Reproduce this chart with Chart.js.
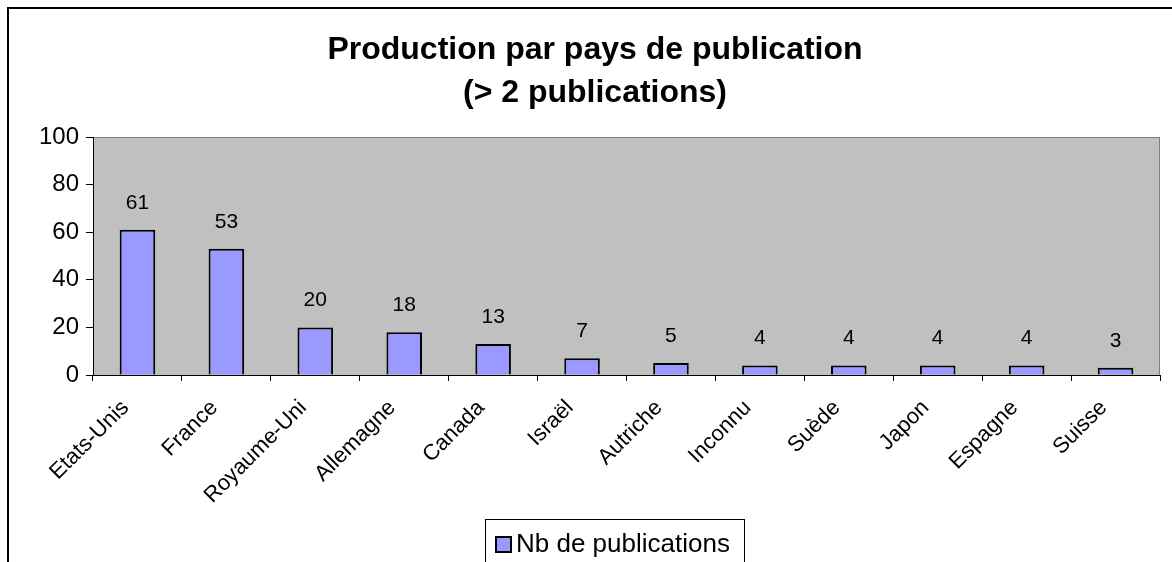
<!DOCTYPE html>
<html>
<head>
<meta charset="utf-8">
<script src="https://cdn.jsdelivr.net/npm/chart.js@4.4.1/dist/chart.umd.min.js"></script>
<style>
  html, body { margin: 0; padding: 0; background: #fff; }
  #wrap { width: 1172px; height: 562px; position: relative; }
</style>
</head>
<body>
<div id="wrap"><canvas id="graphique" width="1172" height="562"></canvas></div>
<script>
// données du graphique
const pays = ['Etats-Unis', 'France', 'Royaume-Uni', 'Allemagne', 'Canada', 'Israël',
  'Autriche', 'Inconnu', 'Suède', 'Japon', 'Espagne', 'Suisse'];
const publications = [61, 53, 20, 18, 13, 7, 5, 4, 4, 4, 4, 3];
const titre = ['Production par pays de publication', '(> 2 publications)'];
const legende = 'Nb de publications';

const police = "'Liberation Sans', Arial, sans-serif";

// cadre, fond gris, titre, étiquettes et légende
const decor = {
  id: 'decor',
  beforeDraw(chart) {
    const ctx = chart.ctx;
    const a = chart.chartArea;
    ctx.save();
    ctx.fillStyle = '#fff';
    ctx.fillRect(0, 0, chart.width, chart.height);
    ctx.fillStyle = '#000';
    ctx.fillRect(7, 7, chart.width - 7, 2);
    ctx.fillRect(7, 7, 2, chart.height - 7);
    ctx.fillStyle = '#c0c0c0';
    ctx.fillRect(a.left, a.top, a.right - a.left, a.bottom - a.top);
    ctx.strokeStyle = '#808080';
    ctx.lineWidth = 1;
    ctx.strokeRect(a.left + 0.5, a.top + 0.5, a.right - a.left - 1, a.bottom - a.top);
    // titre
    ctx.fillStyle = '#000';
    ctx.font = 'bold 32px ' + police;
    ctx.textAlign = 'center';
    ctx.textBaseline = 'middle';
    ctx.fillText(titre[0], 595, 50);
    ctx.fillText(titre[1], 595, 93);
    ctx.restore();
  },
  afterDraw(chart) {
    const ctx = chart.ctx;
    ctx.save();
    // valeurs au-dessus des barres
    ctx.fillStyle = '#000';
    ctx.font = '21px ' + police;
    ctx.textAlign = 'center';
    ctx.textBaseline = 'middle';
    chart.getDatasetMeta(0).data.forEach((bar, i) => {
      ctx.fillText(publications[i], bar.x, bar.y - 27);
    });
    // légende
    ctx.fillStyle = '#fff';
    ctx.fillRect(485, 519, 259, 50);
    ctx.strokeStyle = '#000';
    ctx.lineWidth = 1;
    ctx.strokeRect(485.5, 519.5, 259, 50);
    ctx.fillStyle = '#9999ff';
    ctx.fillRect(495, 536, 16, 16);
    ctx.lineWidth = 2;
    ctx.strokeRect(496, 537, 15, 15);
    ctx.fillStyle = '#000';
    ctx.font = '26px ' + police;
    ctx.textAlign = 'left';
    ctx.fillText(legende, 516, 545);
    ctx.restore();
  }
};

new Chart(document.getElementById('graphique'), {
  type: 'bar',
  data: {
    labels: pays,
    datasets: [{
      label: legende,
      data: publications,
      backgroundColor: '#9999ff',
      borderColor: '#000',
      borderWidth: 2,
      barPercentage: 0.4,
      categoryPercentage: 1
    }]
  },
  options: {
    responsive: false,
    animation: false,
    layout: { padding: { left: 8, right: 12, top: 137, bottom: 0 } },
    plugins: {
      legend: { display: false },
      tooltip: { enabled: false },
      title: { display: false }
    },
    scales: {
      x: {
        offset: true,
        grid: { offset: true, drawOnChartArea: false, color: '#000', tickLength: 6, tickWidth: 1 },
        border: { color: '#000', width: 1 },
        ticks: { color: '#000', font: { family: police, size: 22 }, minRotation: 45, maxRotation: 45,
          autoSkip: false, padding: 14, labelOffset: -12 },
        afterFit(scale) { scale.height = 187; }
      },
      y: {
        min: 0,
        max: 100,
        grid: { drawOnChartArea: false, color: '#000', tickLength: 7 },
        border: { color: '#000', width: 1 },
        ticks: { stepSize: 20, color: '#000', font: { family: police, size: 24 }, padding: 7 },
        afterFit(scale) { scale.width = 85; }
      }
    }
  },
  plugins: [decor]
});
</script>
</body>
</html>
